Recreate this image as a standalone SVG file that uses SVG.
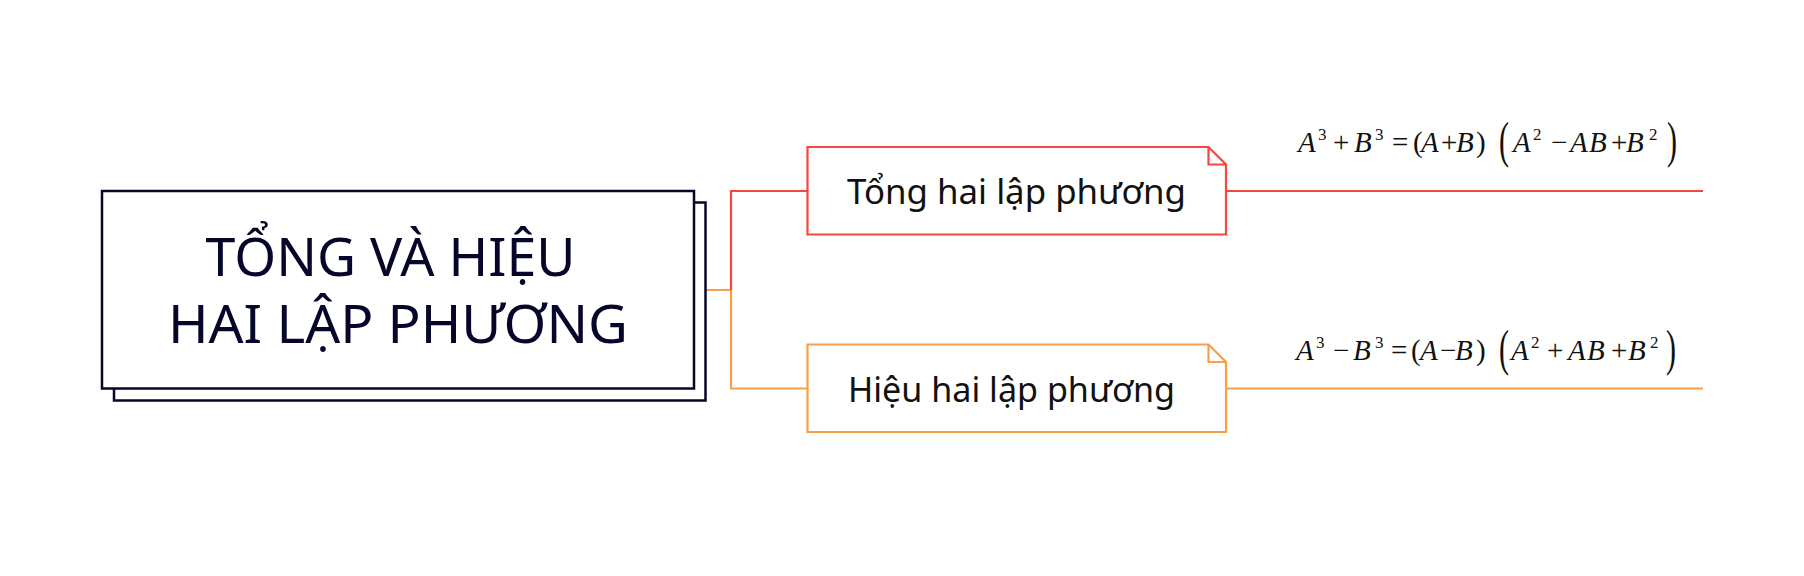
<svg xmlns="http://www.w3.org/2000/svg" width="1804" height="576" viewBox="0 0 1804 576">
<style>
.nav{fill:#fff;stroke:#06062a;stroke-width:2.5}
.title{font-family:"Noto Sans","Liberation Sans",sans-serif;font-size:52px;fill:#06062a}
.lbl{font-family:"Noto Sans","Liberation Sans",sans-serif;font-size:35px;fill:#111}
.red{stroke:#f4473f}
.org{stroke:#f7a049}
.ln{fill:none;stroke-width:2.2}
.nodebox{fill:#fff;stroke-width:2.2}
.fx{font-family:"Liberation Serif","Times New Roman",serif;font-size:29px;fill:#111}
.i{font-style:italic}
.sup{font-size:17px}
.big{font-family:"Liberation Serif","Times New Roman",serif;font-size:50px;fill:#111}
</style>
<rect width="1804" height="576" fill="#fff"/>
<g id="connectors">
<path class="ln org" d="M694 290 H731 V388.5 H807.5"/>
<path class="ln red" d="M731 290 V191 H807.5"/>
<path class="ln red" d="M1226 191 H1703"/>
<path class="ln org" d="M1226 388.5 H1703"/>
</g>
<g id="root">
<rect class="nav" x="114" y="202.5" width="591.5" height="198"/>
<rect class="nav" x="102" y="191" width="592" height="197.5"/>
<text class="title" x="205.5" y="275.5" textLength="370" lengthAdjust="spacingAndGlyphs">TỔNG VÀ HIỆU</text>
<text class="title" x="168" y="343" textLength="460" lengthAdjust="spacingAndGlyphs">HAI LẬP PHƯƠNG</text>
</g>
<g id="node-tong">
<path class="nodebox red" d="M807.5 147 H1208.5 L1226 164.5 V234.5 H807.5 Z"/>
<path class="ln red" d="M1208.5 147 V164.5 H1226"/>
<text class="lbl" x="847" y="204" textLength="339" lengthAdjust="spacingAndGlyphs">Tổng hai lập phương</text>
</g>
<g id="node-hieu">
<path class="nodebox org" d="M807.5 344.5 H1208.5 L1226 362 V432 H807.5 Z"/>
<path class="ln org" d="M1208.5 344.5 V362 H1226"/>
<text class="lbl" x="848" y="401.5" textLength="327" lengthAdjust="spacingAndGlyphs">Hiệu hai lập phương</text>
</g>
<g id="formula-tong">
<text class="fx" y="152"><tspan class="i" x="1298">A</tspan><tspan class="sup" x="1318" y="140">3</tspan><tspan x="1333" y="152">+</tspan><tspan class="i" x="1354">B</tspan><tspan class="sup" x="1375" y="140">3</tspan><tspan x="1392" y="152">=</tspan><tspan x="1413">(</tspan><tspan class="i" x="1421">A</tspan><tspan x="1441">+</tspan><tspan class="i" x="1456">B</tspan><tspan x="1476">)</tspan><tspan class="i" x="1513">A</tspan><tspan class="sup" x="1533" y="140">2</tspan><tspan x="1551" y="152">−</tspan><tspan class="i" x="1570">A</tspan><tspan class="i" x="1589">B</tspan><tspan x="1611">+</tspan><tspan class="i" x="1626">B</tspan><tspan class="sup" x="1649" y="140">2</tspan></text>
<text class="big" transform="translate(1499 157) scale(0.6 1)">(</text>
<text class="big" transform="translate(1667 157) scale(0.6 1)">)</text>
</g>
<g id="formula-hieu">
<text class="fx" y="360"><tspan class="i" x="1296">A</tspan><tspan class="sup" x="1316" y="348">3</tspan><tspan x="1333" y="360">−</tspan><tspan class="i" x="1353">B</tspan><tspan class="sup" x="1375" y="348">3</tspan><tspan x="1391" y="360">=</tspan><tspan x="1411">(</tspan><tspan class="i" x="1420">A</tspan><tspan x="1440">−</tspan><tspan class="i" x="1455">B</tspan><tspan x="1476">)</tspan><tspan class="i" x="1511">A</tspan><tspan class="sup" x="1531" y="348">2</tspan><tspan x="1547" y="360">+</tspan><tspan class="i" x="1568">A</tspan><tspan class="i" x="1587">B</tspan><tspan x="1611">+</tspan><tspan class="i" x="1628">B</tspan><tspan class="sup" x="1650" y="348">2</tspan></text>
<text class="big" transform="translate(1499 365) scale(0.6 1)">(</text>
<text class="big" transform="translate(1666 365) scale(0.6 1)">)</text>
</g>
</svg>
